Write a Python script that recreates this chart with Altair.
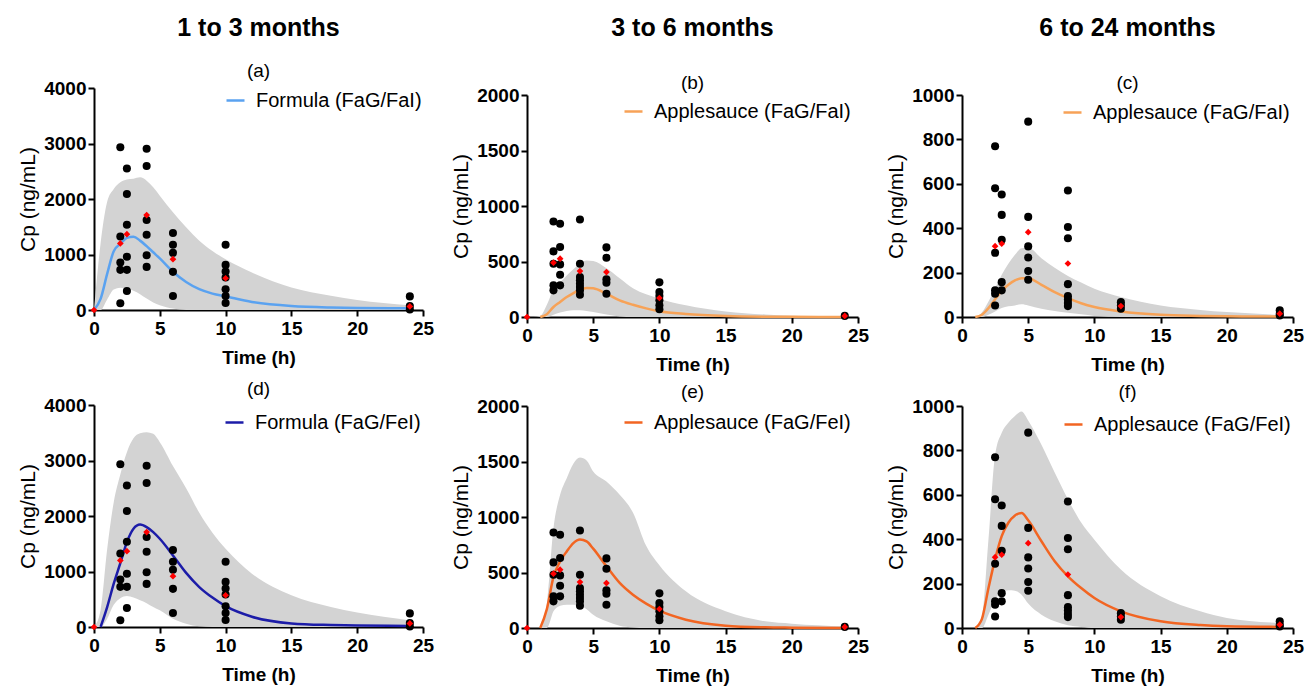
import altair as alt
import pandas as pd

FONT = "Liberation Sans"

# common time grid (h) for the simulated curves
T = [0, 0.5, 1, 1.5, 2, 2.5, 3, 3.5, 4, 4.5, 5, 6, 7, 8, 9, 10, 12, 15, 18, 20, 24]

# ---- 1 to 3 months -------------------------------------------------------
mean_a = [0, 200, 650, 1060, 1190, 1300, 1320, 1250, 1150, 1040, 930, 690, 505, 375, 295, 245, 145, 72, 45, 38, 30]
hi_a = [0, 1200, 1950, 2180, 2300, 2350, 2365, 2390, 2330, 2210, 2060, 1760, 1490, 1250, 1065, 915, 675, 405, 255, 180, 85]
lo_a = [0, 0, 190, 370, 400, 390, 345, 285, 205, 135, 85, 25, 0, 0, 0, 0, 0, 0, 0, 0, 0]
mean_d = [None, 0, 360, 780, 1150, 1530, 1770, 1845, 1800, 1710, 1590, 1290, 975, 720, 530, 375, 185, 65, 35, 25, 20]
hi_d = [0, 300, 1400, 2250, 2750, 3150, 3400, 3490, 3510, 3480, 3330, 2900, 2500, 2060, 1700, 1410, 960, 570, 360, 260, 120]
lo_d = [0, 0, 150, 400, 520, 560, 530, 480, 430, 360, 300, 150, 60, 12, 0, 0, 0, 0, 0, 0, 0]

obs1_t = [2, 2, 2, 2, 2, 2.5, 2.5, 2.5, 2.5, 2.5, 2.5, 4, 4, 4, 4, 4, 4,
          6, 6, 6, 6, 6, 10, 10, 10, 10, 10, 10, 10, 24, 24, 24]
obs1_v = [2934, 1325, 855, 723, 120, 2548, 2090, 1536, 958, 723, 343, 2904, 2596, 1620, 1355, 988, 777,
          1386, 1175, 1030, 687, 253, 1175, 813, 693, 584, 373, 253, 127, 245, 70, 10]
mean1_t = [0, 2, 2.5, 4, 6, 10, 24]
mean1_v = [0, 1199, 1367, 1711, 916, 572, 65]

# ---- 3 to 6 months -------------------------------------------------------
mean_b = [None, None, 0, 25, 90, 135, 180, 215, 246, 262, 258, 210, 150, 110, 78, 52, 27, 9, 3, 2, 0]
hi_b = [0, 0, 10, 110, 250, 310, 375, 430, 480, 510, 505, 440, 350, 260, 205, 165, 105, 50, 22, 12, 3]
lo_b = [0, 0, 0, 0, 20, 40, 55, 60, 60, 55, 45, 22, 5, 0, 0, 0, 0, 0, 0, 0, 0]
mean_e = [None, None, 0, 170, 460, 600, 690, 765, 797, 780, 715, 556, 406, 300, 220, 156, 75, 21, 6, 3, 0]
hi_e = [0, 0, 0, 220, 900, 1200, 1350, 1480, 1535, 1510, 1410, 1320, 1200, 1040, 740, 565, 330, 150, 60, 39, 15]
lo_e = [0, 0, 0, 0, 150, 200, 210, 210, 205, 170, 120, 60, 20, 5, 0, 0, 0, 0, 0, 0, 0]

obs2_t = [2, 2, 2, 2, 2, 2.5, 2.5, 2.5, 2.5, 2.5, 4, 4, 4, 4, 4, 4, 4, 4,
          6, 6, 6, 6, 6, 10, 10, 10, 10, 10, 10, 24]
obs2_v = [861, 591, 480, 285, 240, 840, 630, 474, 381, 285, 879, 480, 360, 330, 300, 270, 240, 200,
          627, 534, 339, 309, 210, 312, 225, 189, 150, 105, 69, 10]
mean2_t = [0, 2, 2.5, 4, 6, 10, 24]
mean2_v = [0, 489, 525, 414, 405, 171, 10]

# ---- 6 to 24 months ------------------------------------------------------
mean_c = [None, None, 0, 10, 40, 80, 118, 145, 165, 175, 175, 145, 112, 85, 62, 45, 25, 10, 5, 3, 2]
hi_c = [0, 0, 0, 20, 70, 130, 190, 240, 280, 310, 312, 265, 222, 185, 155, 127, 90, 52, 32, 22, 10]
lo_c = [0, 0, 0, 0, 10, 25, 40, 48, 52, 57, 52, 37, 27, 19, 12, 5, 0, 0, 0, 0, 0]
mean_f = [None, None, 0, 40, 180, 310, 414, 474, 507, 518, 485, 391, 301, 233, 180, 135, 75, 30, 13, 8, 5]
hi_f = [0, 0, 0, 50, 400, 780, 880, 925, 955, 975, 935, 825, 700, 580, 475, 398, 263, 143, 75, 45, 23]
lo_f = [0, 0, 0, 0, 60, 130, 160, 170, 168, 150, 110, 60, 30, 12, 5, 0, 0, 0, 0, 0, 0]

obs3_t = [2.5, 2.5, 2.5, 2.5, 2.5, 2.5, 3, 3, 3, 3, 3, 5, 5, 5, 5, 5, 5,
          8, 8, 8, 8, 8, 8, 8, 8, 12, 12, 12, 24, 24, 24]
obs3_v = [769, 580, 289, 120, 105, 52, 552, 460, 348, 157, 120, 880, 451, 318, 268, 207, 168,
          570, 405, 355, 148, 94, 79, 63, 49, 67, 52, 37, 30, 15, 7]
mean3_t = [2.5, 3, 5, 8, 12, 24]
mean3_v = [319, 330, 382, 241, 49, 15]

COL_TITLES = ["1 to 3 months", "3 to 6 months", "6 to 24 months"]


def panel(label, mean, lo, hi, color, series, obs_t, obs_v, red_t, red_v,
          ymax, ystep, width, legend_x, legend_y, title_offset):
    curve = pd.DataFrame({"t": T, "mean": mean, "lo": lo, "hi": hi, "series": series})
    obs = pd.DataFrame({"t": obs_t, "v": obs_v})
    red = pd.DataFrame({"t": red_t, "v": red_v})
    xsc = alt.Scale(domain=[0, 25], nice=False, zero=False)
    ysc = alt.Scale(domain=[0, ymax], nice=False)
    xax = alt.Axis(values=[0, 5, 10, 15, 20, 25], title="Time (h)", format="d", labelFlush=False)
    yax = alt.Axis(values=list(range(0, ymax + 1, ystep)), title="Cp (ng/mL)", format="d",
                   labelFlush=False)
    X = alt.X("t:Q", scale=xsc, axis=xax)
    band = alt.Chart(curve).mark_area(color="#d3d3d3", interpolate="monotone", opacity=1).encode(
        x=X, y=alt.Y("lo:Q", scale=ysc, axis=yax), y2="hi:Q")
    line = alt.Chart(curve).mark_line(strokeWidth=2.5, interpolate="monotone").encode(
        x=X, y=alt.Y("mean:Q", scale=ysc, axis=yax),
        color=alt.Color("series:N", scale=alt.Scale(range=[color]),
                        legend=alt.Legend(orient="none", legendX=legend_x, legendY=legend_y,
                                          title=None, padding=0, labelFont=FONT, labelFontSize=20,
                                          labelColor="black", labelLimit=0, symbolType="stroke",
                                          symbolStrokeWidth=2.5, symbolSize=324,
                                          labelOffset=10, symbolOpacity=1)))
    pts = alt.Chart(obs).mark_circle(size=65, color="black", opacity=1).encode(
        x=X, y=alt.Y("v:Q", scale=ysc, axis=yax))
    reds = alt.Chart(red).mark_point(shape="diamond", filled=True, size=45, color="#ff0000",
                                     opacity=1).encode(x=X, y=alt.Y("v:Q", scale=ysc, axis=yax))
    return alt.layer(band, line, pts, reds).properties(
        width=width, height=222,
        title=alt.TitleParams(label, fontSize=19, font=FONT, fontWeight="normal", color="black",
                              anchor="middle", frame="group", offset=title_offset))


def header(text, width, h):
    return alt.Chart(pd.DataFrame({"v": [0]})).mark_point(opacity=0).properties(
        width=width, height=h,
        title=alt.TitleParams(text, fontSize=25, font=FONT, fontWeight="bold", color="black",
                              anchor="middle", frame="group", offset=0))


pa = panel("(a)", mean_a, lo_a, hi_a, "#5aa2f0", "Formula (FaG/FaI)", obs1_t, obs1_v, mean1_t, mean1_v,
           4000, 1000, 329, 131, 2, -1.7)
pd_ = panel("(d)", mean_d, lo_d, hi_d, "#1c1ca8", "Formula (FaG/FeI)", obs1_t, obs1_v, mean1_t, mean1_v,
            4000, 1000, 329, 130, 7, -3.3)
pb = panel("(b)", mean_b, lo_b, hi_b, "#f7a257", "Applesauce (FaG/FaI)", obs2_t, obs2_v, mean2_t, mean2_v,
           2000, 500, 331, 96, 6, -7)
pe = panel("(e)", mean_e, lo_e, hi_e, "#f26522", "Applesauce (FaG/FeI)", obs2_t, obs2_v, mean2_t, mean2_v,
           2000, 500, 331, 96, 6, -5.3)
pc = panel("(c)", mean_c, lo_c, hi_c, "#f7a257", "Applesauce (FaG/FaI)", obs3_t, obs3_v, mean3_t, mean3_v,
           1000, 200, 331, 100, 7, -7)
pf = panel("(f)", mean_f, lo_f, hi_f, "#f26522", "Applesauce (FaG/FeI)", obs3_t, obs3_v, mean3_t, mean3_v,
           1000, 200, 331, 101, 8, -5.3)

col1 = alt.vconcat(header(COL_TITLES[0], 329, 7), pa, pd_, spacing=13).resolve_scale(color="independent")
col2 = alt.vconcat(header(COL_TITLES[1], 331, 24), pb, pe, spacing=9).resolve_scale(color="independent")
col3 = alt.vconcat(header(COL_TITLES[2], 331, 24), pc, pf, spacing=9).resolve_scale(color="independent")

chart = alt.hconcat(col1, col2, col3, spacing=16).resolve_scale(color="independent").properties(
    padding={"left": 17, "top": 16, "right": 5, "bottom": 5},
    background="white",
).configure(font=FONT).configure_view(strokeWidth=0).configure_axis(
    grid=False,
    domainColor="black", domainWidth=2,
    tickColor="black", tickWidth=2, tickSize=6,
    labelColor="black", labelFont=FONT, labelFontSize=19, labelFontWeight="bold",
    titleColor="black", titleFont=FONT, titleFontSize=21,
).configure_axisX(labelPadding=3, titlePadding=10, titleFontWeight="bold", titleFontSize=19
).configure_axisY(labelPadding=2, titlePadding=5, titleFontWeight="normal")

chart.save("out.html", embed_options={"renderer": "svg", "actions": False})
